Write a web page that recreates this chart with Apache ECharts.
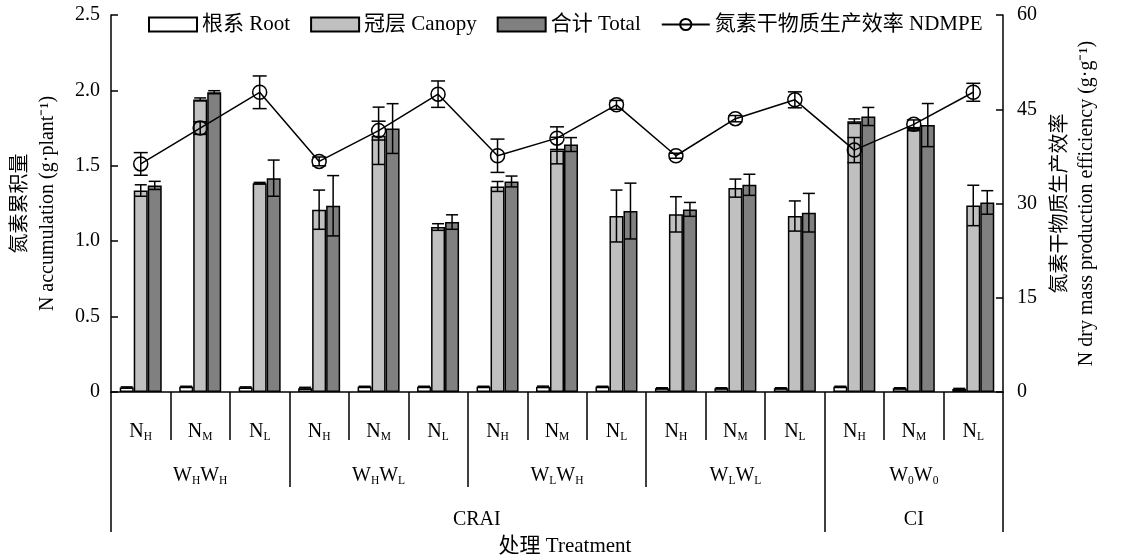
<!DOCTYPE html>
<html><head><meta charset="utf-8">
<script src="https://cdn.jsdelivr.net/npm/echarts@6/dist/echarts.min.js"></script>
<style>html,body{margin:0;padding:0;background:#fff}#c{width:1126px;height:558px}</style>
</head><body><div id="c"></div>
<script>
// ---- data ----
var nLevels = ['H','M','L','H','M','L','H','M','L','H','M','L','H','M','L'];
var wGroups = [['H','H'],['H','L'],['L','H'],['L','L'],['0','0']];
var systems = ['CRAI','CRAI','CRAI','CRAI','CI'];   // system of each water group
var rootVals   = [0.030,0.035,0.030,0.025,0.035,0.035,0.035,0.035,0.035,0.025,0.025,0.025,0.035,0.025,0.020];
var rootErr    = [0.004,0.003,0.004,0.006,0.003,0.003,0.003,0.004,0.003,0.003,0.003,0.003,0.003,0.003,0.004];
var canopyVals = [1.336,1.940,1.385,1.209,1.699,1.094,1.363,1.601,1.167,1.178,1.352,1.167,1.796,1.743,1.237];
var canopyErr  = [0.038,0.010,0.005,0.130,0.190,0.022,0.033,0.088,0.172,0.117,0.060,0.100,0.015,0.010,0.134];
var totalVals  = [1.370,1.988,1.418,1.235,1.747,1.127,1.396,1.641,1.200,1.211,1.374,1.189,1.827,1.770,1.257];
var totalErr   = [0.027,0.010,0.120,0.200,0.165,0.048,0.036,0.046,0.185,0.046,0.070,0.128,0.060,0.143,0.078];
var ndmpeVals  = [36.3,42.0,47.7,36.7,41.6,47.4,37.6,40.4,45.7,37.6,43.5,46.5,38.5,42.6,47.7];
var ndmpeErr   = [1.8,1.0,2.6,0.7,1.5,2.1,2.65,1.8,0.7,0.4,0.5,1.27,2.0,0.7,1.43];
var leftTicks  = ['0','0.5','1.0','1.5','2.0','2.5'];
var rightTicks = ['0','15','30','45','60'];

// ---- build ----
var FONT = "'Liberation Serif','Times New Roman','Noto Sans CJK SC',serif";
var BAR_W = 14;
var richSub = {
  n: {fontSize: 20, fontFamily: FONT, color: '#000'},
  s: {fontSize: 11.5, fontFamily: FONT, color: '#000', verticalAlign: 'bottom', padding: [9, 0, 0, 0]},
  r: {fontSize: 20, fontFamily: FONT, color: '#000', padding: [0, 0, 0, 18]}
};
var cats = nLevels.map(function (n, i) { return 'N' + n + '_' + i; });
var wCats = wGroups.map(function (w) { return '{n|W}{s|' + w[0] + '}{n|W}{s|' + w[1] + '}'; });

// system axis on half-category points
var halfN = nLevels.length * 2 + 1;
var sysData = []; for (var k = 0; k < halfN; k++) sysData.push('');
var sysTicks = {0: true}; sysTicks[halfN - 1] = true;
var start = 0;
for (var g = 0; g < systems.length; g++) {
  if (g === systems.length - 1 || systems[g + 1] !== systems[g]) {
    var endCat = (g + 1) * 3;
    sysData[start + endCat] = systems[g];   // centre of span, in half-category units
    sysTicks[endCat * 2] = true;
    start = endCat;
  }
}

function errSeries(name, vals, errs, offsetIdx, yIdx, capW) {
  return {
    name: name + '_err', type: 'custom', xAxisIndex: 0, yAxisIndex: yIdx, z: 10, silent: true,
    data: vals.map(function (v, i) { return [i, v - errs[i], v + errs[i]]; }),
    renderItem: function (params, api) {
      var lo = api.coord([api.value(0), api.value(1)]);
      var hi = api.coord([api.value(0), api.value(2)]);
      var x = lo[0] + offsetIdx * BAR_W;
      var st = {stroke: '#000', lineWidth: 1.5};
      return {type: 'group', children: [
        {type: 'line', shape: {x1: x, y1: lo[1], x2: x, y2: hi[1]}, style: st},
        {type: 'line', shape: {x1: x - capW / 2, y1: lo[1], x2: x + capW / 2, y2: lo[1]}, style: st},
        {type: 'line', shape: {x1: x - capW / 2, y1: hi[1], x2: x + capW / 2, y2: hi[1]}, style: st}
      ]};
    }
  };
}

var barStyle = function (c) { return {color: c, borderColor: '#000', borderWidth: 1.5}; };
var axLine = {show: true, lineStyle: {color: '#000', width: 1.5}};

var option = {
  animation: false,
  backgroundColor: '#fff',
  textStyle: {fontFamily: FONT, color: '#000'},
  grid: {left: 111, right: 123, top: 15, bottom: 166, containLabel: false, outerBoundsMode: 'none'},
  legend: {
    left: 143, top: 9, itemWidth: 48, itemHeight: 14, itemGap: 20,
    textStyle: {fontSize: 21, fontFamily: FONT, color: '#000'},
    data: [
      {name: '根系 Root', icon: 'rect'},
      {name: '冠层 Canopy', icon: 'rect'},
      {name: '合计 Total', icon: 'rect'},
      {name: '氮素干物质生产效率 NDMPE'}
    ]
  },
  xAxis: [
    {
      type: 'category', data: cats, position: 'bottom',
      axisLine: axLine,
      axisTick: {show: true, length: 48, lineStyle: {color: '#000', width: 1.5}},
      axisLabel: {margin: 30, interval: 0, formatter: function (v) { return '{n|N}{s|' + v.split('_')[0].slice(1) + '}'; }, rich: richSub}
    },
    {
      type: 'category', data: wCats, position: 'bottom',
      axisLine: {show: false},
      axisTick: {show: true, length: 95, lineStyle: {color: '#000', width: 1.5}},
      axisLabel: {margin: 74, interval: 0, rich: richSub}
    },
    {
      type: 'category', data: sysData, position: 'bottom', boundaryGap: false,
      axisLine: {show: false},
      axisTick: {show: true, length: 140, interval: function (i) { return !!sysTicks[i]; }, lineStyle: {color: '#000', width: 1.5}},
      axisLabel: {margin: 118, interval: function (i, v) { return v !== ''; }, fontSize: 20, fontFamily: FONT, color: '#000',
        formatter: function (v) { return v === systems[0] ? '{r|' + v + '}' : '{n|' + v + '}'; }, rich: richSub},
      name: '处理 Treatment', nameLocation: 'middle', nameGap: 144,
      nameTextStyle: {fontSize: 21, fontFamily: FONT, color: '#000', padding: [0, 0, 0, 16]}
    }
  ],
  yAxis: [
    {
      type: 'value', min: 0, max: 2.5, interval: 0.5, position: 'left',
      axisLine: axLine,
      axisTick: {show: true, inside: true, length: 7, lineStyle: {color: '#000', width: 1.5}},
      splitLine: {show: false},
      axisLabel: {margin: 11, fontSize: 20, fontFamily: FONT, color: '#000',
        formatter: function (v) { return leftTicks[Math.round(v / 0.5)]; }},
      name: '氮素累积量\nN accumulation (g·plant⁻¹)', nameLocation: 'middle', nameRotate: 90, nameGap: 50,
      nameTextStyle: {fontSize: 20, lineHeight: 27, fontFamily: FONT, color: '#000'}
    },
    {
      type: 'value', min: 0, max: 60, interval: 15, position: 'right',
      axisLine: axLine,
      axisTick: {show: true, inside: true, length: 7, lineStyle: {color: '#000', width: 1.5}},
      splitLine: {show: false},
      axisLabel: {margin: 14, fontSize: 20, fontFamily: FONT, color: '#000',
        formatter: function (v) { return rightTicks[Math.round(v / 15)]; }},
      name: '氮素干物质生产效率\nN dry mass production efficiency (g·g⁻¹)', nameLocation: 'middle', nameRotate: 90, nameGap: 41,
      nameTextStyle: {fontSize: 20, lineHeight: 26, fontFamily: FONT, color: '#000'}
    }
  ],
  series: [
    {name: '根系 Root', type: 'bar', xAxisIndex: 0, yAxisIndex: 0, barWidth: BAR_W, barGap: '0%', data: rootVals, itemStyle: barStyle('#ffffff')},
    {name: '冠层 Canopy', type: 'bar', xAxisIndex: 0, yAxisIndex: 0, barWidth: BAR_W, barGap: '0%', data: canopyVals, itemStyle: barStyle('#c0c0c0')},
    {name: '合计 Total', type: 'bar', xAxisIndex: 0, yAxisIndex: 0, barWidth: BAR_W, barGap: '0%', data: totalVals, itemStyle: barStyle('#808080')},
    errSeries('root', rootVals, rootErr, -1, 0, 12),
    errSeries('canopy', canopyVals, canopyErr, 0, 0, 12),
    errSeries('total', totalVals, totalErr, 1, 0, 12),
    {name: '氮素干物质生产效率 NDMPE', type: 'line', xAxisIndex: 0, yAxisIndex: 1, z: 11, data: ndmpeVals,
      symbol: 'circle', symbolSize: 14,
      lineStyle: {color: '#000', width: 1.5},
      itemStyle: {color: 'rgba(255,255,255,0)', borderColor: '#000', borderWidth: 1.5}},
    errSeries('ndmpe', ndmpeVals, ndmpeErr, 0, 1, 14)
  ]
};
var chart = echarts.init(document.getElementById('c'), null, {renderer: 'canvas'});
chart.setOption(option);
</script></body></html>
